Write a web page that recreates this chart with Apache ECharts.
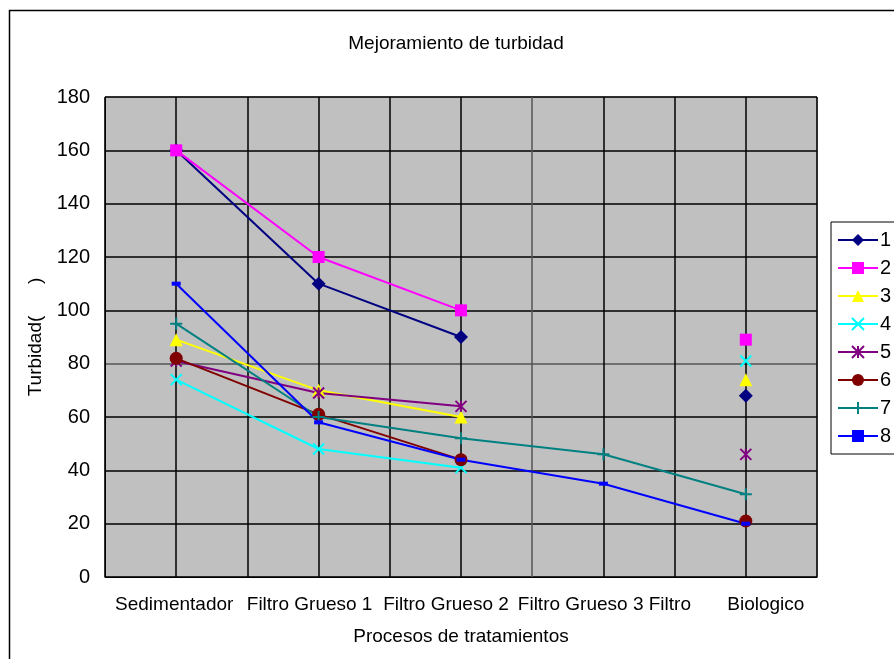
<!DOCTYPE html>
<html>
<head>
<meta charset="utf-8">
<script src="https://cdn.jsdelivr.net/npm/echarts@6/dist/echarts.min.js"></script>
<style>
html,body{margin:0;padding:0;background:#fff;}
#main{width:894px;height:659px;}
</style>
</head>
<body>
<div id="main"></div>
<script>
var categories = ['Sedimentador', 'Filtro Grueso 1', 'Filtro Grueso 2', 'Filtro Grueso 3 Filtro', 'Biologico'];
var s1 = [160, 110, 90, null, 68];
var s2 = [160, 120, 100, null, 89];
var s3 = [89, 70, 60, null, 74];
var s4 = [74, 48, 41, null, 81];
var s5 = [81, 69, 64, null, 46];
var s6 = [82, 61, 44, null, 21];
var s7 = [95, 60, 52, 46, 31];
var s8 = [110, 58, 44, 35, 20];
var seriesNames = ['1', '2', '3', '4', '5', '6', '7', '8'];
var yTicks = [0, 20, 40, 60, 80, 100, 120, 140, 160, 180];

var FONT = '"Liberation Sans", Arial, sans-serif';
var chart = echarts.init(document.getElementById('main'));

var xPath = 'path://M0,0 L10,10 M10,0 L0,10';
var plusPath = 'path://M5,0 L5,10 M0,5 L10,5';
var starPath = 'path://M0,0 L10,10 M10,0 L0,10 M5,0 L5,10';

function mk(name, data, color, symbol, size, stroke) {
  return {
    name: name, type: 'line', data: data, xAxisIndex: 0, yAxisIndex: 0,
    symbol: symbol, symbolSize: size, showSymbol: true, showAllSymbol: true,
    connectNulls: false, animation: false,
    lineStyle: { color: color, width: 2 },
    itemStyle: { color: color, borderColor: color, borderWidth: stroke ? 2 : 0 },
    emphasis: { disabled: true }
  };
}

var series = [
  mk(seriesNames[0], s1, '#000080', 'diamond', 14, false),
  mk(seriesNames[1], s2, '#ff00ff', 'rect', 12, false),
  mk(seriesNames[2], s3, '#ffff00', 'triangle', 13, false),
  mk(seriesNames[3], s4, '#00ffff', xPath, 11, true),
  mk(seriesNames[4], s5, '#800080', starPath, 11, true),
  mk(seriesNames[5], s6, '#800000', 'circle', 13, false),
  mk(seriesNames[6], s7, '#008080', plusPath, 12, true),
  mk(seriesNames[7], s8, '#0000ff', 'rect', [9, 4], false)
];

var gridColors = yTicks.map(function (v) { return v === 80 ? '#555' : '#000'; });
var labelStyles = ['c0', 'c1', 'c2', 'c3', 'c4'];

chart.setOption({
  backgroundColor: '#fff',
  animation: false,
  textStyle: { fontFamily: FONT },
  title: {
    text: 'Mejoramiento de turbidad',
    left: 451, top: 29, textAlign: 'center',
    textStyle: { fontFamily: FONT, fontSize: 19, fontWeight: 'normal', color: '#000' }
  },
  graphic: [{
    type: 'rect', silent: true, z: -10,
    shape: { x: 9.5, y: 10.5, width: 900, height: 670 },
    style: { fill: null, stroke: '#000', lineWidth: 1.5 }
  }],
  legend: {
    orient: 'vertical', left: 831, top: 222,
    itemWidth: 40, itemHeight: 15, itemGap: 8,
    padding: [8, 20, 8, 6],
    borderColor: '#000', borderWidth: 1, backgroundColor: '#fff',
    textStyle: { fontFamily: FONT, fontSize: 20, color: '#000', padding: [0, 0, 0, -3] },
    data: seriesNames
  },
  grid: { left: 105, top: 97, width: 712, height: 480, show: true, backgroundColor: '#c0c0c0', borderColor: '#808080', borderWidth: 1 },
  xAxis: [{
    type: 'category', data: categories, boundaryGap: true,
    name: 'Procesos de tratamientos', nameLocation: 'middle', nameGap: 50,
    nameTextStyle: { fontFamily: FONT, fontSize: 19, color: '#000' },
    axisLine: { lineStyle: { color: '#000', width: 1 } },
    axisTick: { show: false },
    axisLabel: {
      interval: 0, fontFamily: FONT, fontSize: 19, color: '#000', margin: 18,
      formatter: function (v, i) { return '{' + labelStyles[i] + '|' + v + '}'; },
      rich: {
        c0: { fontFamily: FONT, fontSize: 19, color: '#000', padding: [0, 4, 0, 0] },
        c1: { fontFamily: FONT, fontSize: 19, color: '#000', padding: [0, 18, 0, 0] },
        c2: { fontFamily: FONT, fontSize: 19, color: '#000', padding: [0, 30, 0, 0] },
        c3: { fontFamily: FONT, fontSize: 19, color: '#000', padding: [0, 0, 0, 2] },
        c4: { fontFamily: FONT, fontSize: 19, color: '#000', padding: [0, 0, 0, 40] }
      }
    },
    splitLine: { show: false }
  }, {
    type: 'category', data: ['', '', '', '', '', '', '', '', '', ''], boundaryGap: true, position: 'bottom',
    axisLine: { show: false }, axisTick: { show: false }, axisLabel: { show: false },
    splitLine: { show: true, interval: 0, lineStyle: { color: ['#000', '#000', '#000', '#000', '#000', '#000', '#555', '#000', '#000', '#000'], width: 1.5 } }
  }],
  yAxis: {
    type: 'value', min: 0, max: 180, interval: 20,
    name: 'Turbidad(      )', nameLocation: 'middle', nameGap: 52, nameRotate: 90,
    nameTextStyle: { fontFamily: FONT, fontSize: 19, color: '#000' },
    axisLine: { show: true, lineStyle: { color: '#000' } },
    axisTick: { show: false },
    axisLabel: { fontFamily: FONT, fontSize: 20, color: '#000', margin: 15 },
    splitLine: { show: true, lineStyle: { color: gridColors, width: 1.5 } }
  },
  series: series
});
</script>
</body>
</html>
